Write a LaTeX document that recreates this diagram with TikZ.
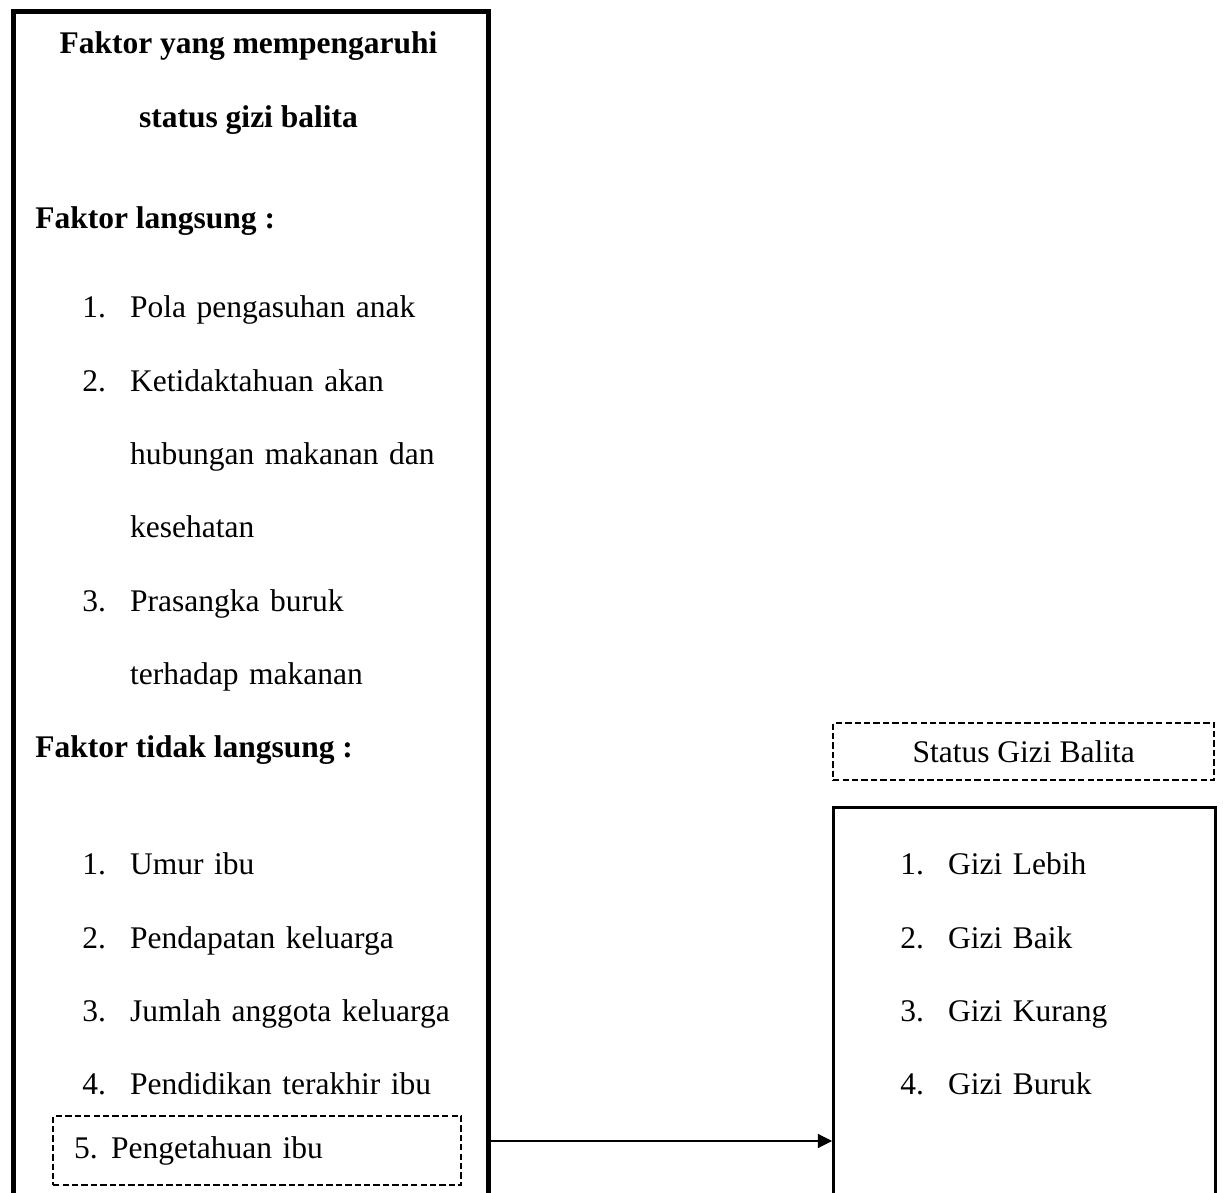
\documentclass[tikz,border=0pt]{standalone}
\usepackage{fontspec}
\setmainfont{Liberation Serif}
\usetikzlibrary{positioning, arrows.meta}

\newcommand{\itm}[2]{\makebox[34.1pt][l]{#1}#2}

\begin{document}
\begin{tikzpicture}[x=0.025cm, y=0.025cm, node distance=1.8325cm, on grid,
    txt/.style={font=\fontsize{22.4}{27}\selectfont, inner sep=0pt},
    row/.style={txt, text width=#1, align=left, text height=16pt, text depth=5pt, anchor=base west},
    row/.default=9.3cm,
    head/.style={txt, font=\fontsize{22.4}{27}\selectfont\bfseries, text height=16pt, text depth=5pt},
    thickbox/.style={draw, line width=3.6pt, inner sep=0pt, anchor=north west},
    thinbox/.style={draw, line width=1.8pt, inner sep=0pt, anchor=north west},
    dashbox/.style={txt, draw, line width=1.6pt, dash pattern=on 4.5pt off 2.2pt, anchor=north west},
    flow/.style={-{Triangle[length=10pt, width=10pt]}, line width=0.8pt}]
    \useasboundingbox (0,0) rectangle (1223,1192);
    \clip (0,0) rectangle (1223,1192);

    % boxes
    \node[thickbox, minimum width=11.875cm, minimum height=30cm] (factors) at (11,1183) {};
    \node[thinbox, minimum width=9.55cm, minimum height=10.5cm] (result) at (832,386) {};
    \node[dashbox, minimum width=9.525cm, minimum height=1.425cm] (status) at (832,470) {Status Gizi Balita};

    % left column
    \node[head, anchor=base] (title1) at (248.5,1138) {Faktor yang mempengaruhi};
    \node[head, below=of title1] (title2) {status gizi balita};

    \node[head, anchor=base west] (direct) at (35,963) {Faktor langsung :};
    \node[row] (r1) at (82,874) {\itm{1.}{Pola pengasuhan anak}};
    \node[row, below=of r1] (r2) {\itm{2.}{Ketidaktahuan akan}};
    \node[row, below=of r2] (r3) {\itm{}{hubungan makanan dan}};
    \node[row, below=of r3] (r4) {\itm{}{kesehatan}};
    \node[row, below=of r4] (r5) {\itm{3.}{Prasangka buruk}};
    \node[row, below=of r5] (r6) {\itm{}{terhadap makanan}};

    \node[head, anchor=base west] (indirect) at (35,434) {Faktor tidak langsung :};
    \node[row] (s1) at (82,317) {\itm{1.}{Umur ibu}};
    \node[row, below=of s1] (s2) {\itm{2.}{Pendapatan keluarga}};
    \node[row, below=of s2] (s3) {\itm{3.}{Jumlah anggota keluarga}};
    \node[row, below=of s3] (s4) {\itm{4.}{Pendidikan terakhir ibu}};
    \node[dashbox, minimum width=10.2cm, minimum height=1.725cm, inner xsep=0.525cm,
        text width=9.15cm, align=left] (know) at (52,77) {\makebox[26.3pt][l]{5.}Pengetahuan ibu};

    % right column
    \node[row=5.5cm] (g1) at (900,317) {\itm{1.}{Gizi Lebih}};
    \node[row=5.5cm, below=of g1] (g2) {\itm{2.}{Gizi Baik}};
    \node[row=5.5cm, below=of g2] (g3) {\itm{3.}{Gizi Kurang}};
    \node[row=5.5cm, below=of g3] (g4) {\itm{4.}{Gizi Buruk}};

    \coordinate (link) at (0,51);
    \draw[flow] (factors.east |- link) -- (result.west |- link);
\end{tikzpicture}
\end{document}
